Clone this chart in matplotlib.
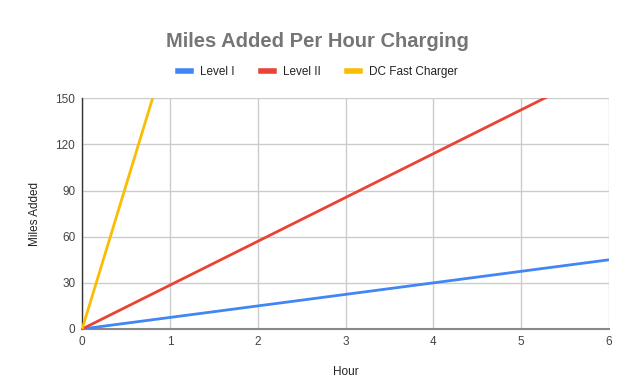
import matplotlib
matplotlib.use("Agg")
import matplotlib.pyplot as plt
from matplotlib.lines import Line2D

plt.rcParams['font.family'] = ['Liberation Sans', 'DejaVu Sans']

hours = [0, 1, 2, 3, 4, 5, 6]
level1 = [0, 7.5, 15, 22.5, 30, 37.5, 45]
level2 = [0, 28.5, 57, 85.5, 114, 142.5, 171]
dcfast = [0, 187, 374, 561, 748, 935, 1122]
series_names = ["Level I", "Level II", "DC Fast Charger"]
colors = ["#4285F4", "#EA4335", "#FBBC04"]
yticks = [0, 30, 60, 90, 120, 150]
xticks = [0, 1, 2, 3, 4, 5, 6]

fig = plt.figure(figsize=(6.32, 3.91), dpi=100)
ax = fig.add_axes([0.130, 0.1586, 0.8336, 0.59])

for vals, c, n in zip([level1, level2, dcfast], colors, series_names):
    ax.plot(hours, vals, color=c, lw=2, label=n, solid_capstyle='butt', zorder=3)

ax.set_xlim(0, 6)
ax.set_ylim(0, 150)
ax.set_xticks(xticks)
ax.set_yticks(yticks)
ax.grid(True, color="#cccccc", lw=1)
ax.set_axisbelow(True)
for s in ["top", "right"]:
    ax.spines[s].set_visible(False)
ax.spines["left"].set_color("#333333")
ax.spines["left"].set_linewidth(1)
ax.spines["bottom"].set_color("#888888")
ax.spines["bottom"].set_linewidth(1.5)
ax.tick_params(length=0, labelsize=8.5, colors="#444444", pad=5)
ax.set_xlabel("Hour", fontsize=8.5, color="#222222", labelpad=13)
ax.set_ylabel("Miles Added", fontsize=8.5, color="#222222", labelpad=10)

fig.text(0.503, 0.893, "Miles Added Per Hour Charging", ha="center", va="center",
         fontsize=14.5, fontweight="bold", color="#757575")

handles = [Line2D([0], [0], color=c, lw=4) for c in colors]
fig.legend(handles, series_names, loc="center", bbox_to_anchor=(0.503, 0.815), ncol=3,
           frameon=False, fontsize=8.5, handlelength=1.1, handletextpad=0.8,
           columnspacing=2.2, labelcolor="#222222")

fig.savefig("out.png", dpi=100)
